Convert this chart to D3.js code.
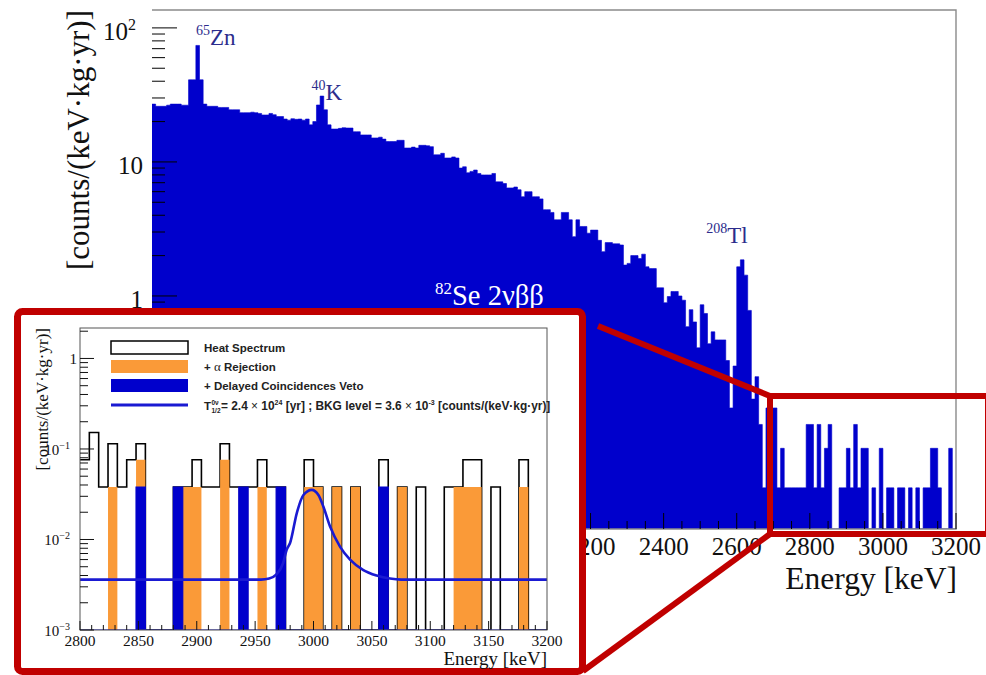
<!DOCTYPE html>
<html>
<head>
<meta charset="utf-8">
<script src="https://cdn.jsdelivr.net/npm/d3@7"></script>
<style>
  html, body { margin: 0; padding: 0; background: #fff; }
  svg { display: block; }
</style>
</head>
<body>
<svg id="fig" width="986" height="675"></svg>
<script>
// ---------------- data ----------------
// Full energy spectrum, 10 keV bins starting at 1000 keV, rate in counts/(keV·kg·yr)
const mainStart = 1000;
const mainStep = 10;
const mainRates = [
  27, 26, 26, 26, 26.5, 27, 27, 27, 26.5, 26.5,
  41, 41, 74, 41, 27, 26, 26, 26, 25.5, 25.5,
  25.5, 24.5, 24.5, 24.5, 23.3, 23.3, 23.3, 23.5, 23.3, 23,
  22.4, 22.4, 23, 22.5, 21.8, 21.8, 20.9, 20.5, 21, 20.8,
  20.9, 20.5, 20.9, 18.9, 20, 26.6, 31, 24.5, 18.9, 17.6,
  17.6, 17.8, 18, 17.9, 17.9, 16.8, 16.8, 15.9, 15.9, 15.9,
  15.1, 15.1, 15.3, 14.8, 14.2, 14.2, 14.2, 14.5, 14.5, 12.7,
  12.7, 12.9, 12.7, 13.3, 13.3, 13.2, 13, 11.3, 11.3, 11.6,
  10.7, 10.7, 10.9, 10.7, 9, 9.2, 8.3, 8.5, 8.7, 8.2,
  8, 8, 8, 8.2, 7.1, 7.1, 6.9, 6.4, 6.4, 6.5,
  6.2, 5.5, 6, 6, 5.5, 5.5, 5.3, 4.4, 4.4, 4.2,
  3.7, 3.7, 4.2, 4.2, 3.7, 2.77, 3.7, 3.3, 3.3, 2.94,
  3.1, 3.1, 2.6, 2.14, 2.5, 2.5, 2.45, 2.45, 2.4, 1.7,
  1.75, 2, 2, 1.9, 2.05, 1.65, 1.6, 1.6, 1.15, 1.15,
  0.89, 0.99, 1.08, 1.08, 1, 0.93, 0.59, 0.79, 0.64, 0.41,
  0.86, 0.74, 0.44, 0.54, 0.47, 0.47, 0.47, 0.33, 0.146, 0.3,
  1.65, 1.86, 1.43, 0.78, 0.17, 0.25, 0.11, 0.037, 0.146, 0.146,
  0.146, 0.037, 0.073, 0.037, 0.037, 0.037, 0.037, 0.037, 0.037, 0.11,
  0.11, 0.037, 0.11, 0.037, 0.073, 0.11, 0, 0, 0.037, 0.037,
  0.073, 0.037, 0.11, 0.037, 0.073, 0.073, 0, 0.037, 0, 0.073,
  0, 0.037, 0.037, 0, 0.037, 0.037, 0, 0.037, 0, 0.037,
  0, 0.037, 0.037, 0.073, 0.073, 0.037, 0, 0, 0.073, 0
];
const mainXTicks = [1000, 1200, 1400, 1600, 1800, 2000, 2200, 2400, 2600, 2800, 3000, 3200];
const mainYTicks = [0.1, 1, 10, 100];

// Peak annotations: isotope mass number, element, line energy (keV)
const peakMass = ["65", "40", "208"];
const peakElem = ["Zn", "K", "Tl"];
const peakEnergy = [1115, 1461, 2615];

// Region of interest, 8 keV bins from 2800 keV
const roiStart = 2800;
const roiStep = 8;
const heatRates = [
  0.076, 0.152, 0.038, 0.114, 0.038, 0.076, 0.114, 0, 0, 0,
  0.038, 0.038, 0.076, 0.038, 0.038, 0.114, 0.038, 0.038, 0.038, 0.076,
  0.038, 0.038, 0, 0, 0.076, 0.038, 0, 0.038, 0, 0.038,
  0, 0, 0.076, 0, 0.038, 0, 0.038, 0, 0, 0.038,
  0.038, 0.076, 0.076, 0, 0.038, 0, 0, 0.076, 0, 0
];
const alphaRates = [
  0, 0, 0, 0.038, 0, 0, 0.076, 0, 0, 0,
  0.038, 0.038, 0.038, 0, 0, 0.076, 0, 0.038, 0, 0.038,
  0, 0.038, 0, 0, 0.038, 0.038, 0, 0.038, 0, 0.038,
  0, 0, 0.038, 0, 0.038, 0, 0, 0, 0, 0,
  0.038, 0.038, 0.038, 0, 0, 0, 0, 0.038, 0, 0
];
const delayedRates = [
  0, 0, 0, 0, 0, 0, 0.038, 0, 0, 0,
  0.038, 0, 0, 0, 0, 0, 0, 0.038, 0, 0,
  0, 0.038, 0, 0, 0, 0, 0, 0, 0, 0,
  0, 0, 0.038, 0, 0, 0, 0, 0, 0, 0,
  0, 0, 0, 0, 0, 0, 0, 0, 0, 0
];
// Fitted signal + flat background (energy keV, rate)
const fitEnergy = [2800, 2955, 2962, 2968, 2974, 2977, 2980, 2985.7, 2991.4, 2998.5,
  3004.2, 3008.5, 3014.2, 3022.8, 3031.3, 3042.7, 3054.1, 3065.5, 3075, 3200];
const fitRate = [0.0036, 0.0036, 0.0037, 0.0041, 0.0055, 0.0077, 0.0092, 0.0196, 0.031, 0.0353,
  0.031, 0.023, 0.0139, 0.0083, 0.006, 0.0046, 0.004, 0.0037, 0.0036, 0.0036];
const roiXTicks = [2800, 2850, 2900, 2950, 3000, 3050, 3100, 3150, 3200];
const roiYTicks = [1, 0.1, 0.01, 0.001];

// ---------------- drawing ----------------
const serif = "'Liberation Serif','Times New Roman',serif";
const sans = "'Liberation Sans',Arial,sans-serif";
const histBlue = "#0000cc";
const orange = "#fa9a38";
const red = "#c00000";
const navy = "#2c2c8c";

const svg = d3.select("#fig");
svg.append("rect").attr("width", 986).attr("height", 675).attr("fill", "#fff");

// ===== main spectrum =====
const xMain = d3.scaleLinear().domain([1000, 3200]).range([152, 956]);
const yMain = d3.scaleLog().domain([0.01825, 136]).range([529, 10]);
const mBottom = yMain.range()[0];

svg.append("clipPath").attr("id", "mainClip")
  .append("rect").attr("x", 152).attr("y", 10).attr("width", 804).attr("height", 519);

function stepPoints(rates, start, step) {
  const pts = rates.map((v, i) => [start + i * step, v]);
  pts.push([start + rates.length * step, rates[rates.length - 1]]);
  return pts;
}

const mainArea = d3.area()
  .curve(d3.curveStepAfter)
  .x(d => xMain(d[0]))
  .y0(mBottom)
  .y1(d => d[1] > 0 ? yMain(d[1]) : mBottom);

svg.append("path")
  .attr("clip-path", "url(#mainClip)")
  .attr("d", mainArea(stepPoints(mainRates, mainStart, mainStep)))
  .attr("fill", histBlue)
  .attr("stroke", histBlue)
  .attr("stroke-width", 0.6);

// frame
svg.append("path")
  .attr("d", `M152,10 H956 V529 H152`)
  .attr("fill", "none").attr("stroke", "#8a8a8a").attr("stroke-width", 1.4);

// x ticks (inward)
const gMain = svg.append("g").attr("stroke", "#000").attr("stroke-width", 1);
const xMinor = d3.range(1000, 3201, 50).filter(v => !mainXTicks.includes(v));
gMain.selectAll(".xmaj").data(mainXTicks).join("line")
  .attr("x1", d => xMain(d)).attr("x2", d => xMain(d))
  .attr("y1", mBottom).attr("y2", mBottom - 16);
gMain.selectAll(".xmin").data(xMinor).join("line")
  .attr("x1", d => xMain(d)).attr("x2", d => xMain(d))
  .attr("y1", mBottom).attr("y2", mBottom - 8);

// y ticks (inward)
const yMinorMain = [];
[-2, -1, 0, 1, 2].forEach(p => {
  for (let m = 2; m <= 9; m++) {
    const v = m * Math.pow(10, p);
    if (v > yMain.domain()[0] && v < yMain.domain()[1]) yMinorMain.push(v);
  }
});
gMain.selectAll(".ymaj").data(mainYTicks).join("line")
  .attr("x1", 152).attr("x2", 152 + 25)
  .attr("y1", d => yMain(d)).attr("y2", d => yMain(d));
gMain.selectAll(".ymin").data(yMinorMain).join("line")
  .attr("x1", 152).attr("x2", 152 + 13)
  .attr("y1", d => yMain(d)).attr("y2", d => yMain(d));

// x tick labels
svg.append("g").selectAll("text").data(mainXTicks).join("text")
  .attr("x", d => xMain(d)).attr("y", 555)
  .attr("text-anchor", "middle")
  .attr("font-family", serif).attr("font-size", 25).attr("fill", "#111")
  .text(d => d);

// y tick labels
function decadeLabel(sel, v, xRight, yBase, size, supSize) {
  const p = Math.round(Math.log10(v));
  const t = sel.append("text")
    .attr("x", xRight).attr("y", yBase)
    .attr("text-anchor", "end")
    .attr("font-family", serif).attr("font-size", size).attr("fill", "#111");
  if (p === 0) { t.text("1"); return; }
  if (p === 1) { t.text("10"); return; }
  t.append("tspan").text("10");
  t.append("tspan").attr("font-size", supSize).attr("dy", -size * 0.42)
    .text(p < 0 ? "\u2212" + (-p) : String(p));
}
const gYLab = svg.append("g");
mainYTicks.forEach(v => {
  const p = Math.round(Math.log10(v));
  decadeLabel(gYLab, v, p >= 2 || p < 0 ? 136 : 143, yMain(v) + 12.5, 25, 16);
});

// axis titles
svg.append("text")
  .attr("transform", "translate(89,10) rotate(-90)")
  .attr("text-anchor", "end")
  .attr("font-family", serif).attr("font-size", 31).attr("fill", "#111")
  .text("[counts/(keV\u00b7kg\u00b7yr)]");
svg.append("text")
  .attr("x", 957).attr("y", 589)
  .attr("text-anchor", "end")
  .attr("font-family", serif).attr("font-size", 31.5).attr("fill", "#111")
  .text("Energy [keV]");

// peak annotations, placed beside each line (pixel shift, label rate level)
const peakPlace = [[2, 74.6], [-9, 29], [-36, 2.49]];
const gPeaks = svg.append("g").attr("font-family", serif).attr("fill", navy);
peakMass.forEach((m, i) => {
  const t = gPeaks.append("text")
    .attr("x", xMain(peakEnergy[i]) + peakPlace[i][0])
    .attr("y", yMain(peakPlace[i][1]));
  t.append("tspan").attr("font-size", 14).attr("dy", -10).text(m);
  t.append("tspan").attr("font-size", 23).attr("dy", 10).text(peakElem[i]);
});
const se = svg.append("text")
  .attr("x", 435).attr("y", 305)
  .attr("font-family", serif).attr("fill", "#fff");
se.append("tspan").attr("font-size", 17).attr("dy", -11).text("82");
se.append("tspan").attr("font-size", 28.5).attr("dy", 11).text("Se 2\u03bd\u03b2\u03b2");

// ===== zoom markers =====
const gRed = svg.append("g").attr("stroke", red).attr("fill", "none");
gRed.append("rect")
  .attr("x", 770).attr("y", 396).attr("width", 218).attr("height", 138)
  .attr("stroke-width", 6);
gRed.append("line").attr("x1", 770).attr("y1", 396).attr("x2", 598).attr("y2", 326)
  .attr("stroke-width", 6);
gRed.append("line").attr("x1", 770).attr("y1", 534).attr("x2", 583).attr("y2", 671)
  .attr("stroke-width", 6);

// ===== inset: region of interest =====
svg.append("rect")
  .attr("x", 17.5).attr("y", 311.5).attr("width", 565).attr("height", 360)
  .attr("rx", 5).attr("ry", 5)
  .attr("fill", "#fff").attr("stroke", red).attr("stroke-width", 7);

const xIn = d3.scaleLinear().domain([2800, 3200]).range([80, 547]);
const yIn = d3.scaleLog().domain([0.001, 2.17]).range([630, 328]);
const iBottom = yIn.range()[0];

svg.append("clipPath").attr("id", "inClip")
  .append("rect").attr("x", 80).attr("y", 328).attr("width", 467).attr("height", 302);

const gIn = svg.append("g").attr("clip-path", "url(#inClip)");
const inArea = d3.area()
  .curve(d3.curveStepAfter)
  .x(d => xIn(d[0]))
  .y0(iBottom)
  .y1(d => d[1] > 0 ? yIn(d[1]) : iBottom);
const inLine = d3.line()
  .curve(d3.curveStepAfter)
  .x(d => xIn(d[0]))
  .y(d => d[1] > 0 ? yIn(d[1]) : iBottom);

// heat spectrum outline
gIn.append("path")
  .attr("d", inLine(stepPoints(heatRates, roiStart, roiStep)))
  .attr("fill", "none").attr("stroke", "#000").attr("stroke-width", 1.6);
// after alpha rejection
gIn.append("path")
  .attr("d", inArea(stepPoints(alphaRates, roiStart, roiStep)))
  .attr("fill", orange).attr("stroke", "none");
// after delayed coincidence veto
gIn.append("path")
  .attr("d", inArea(stepPoints(delayedRates, roiStart, roiStep)))
  .attr("fill", histBlue).attr("stroke", histBlue).attr("stroke-width", 1.2);

// fit curve
const fitLine = d3.line()
  .curve(d3.curveMonotoneX)
  .x(d => xIn(d[0]))
  .y(d => yIn(d[1]));
gIn.append("path")
  .attr("d", fitLine(fitEnergy.map((e, i) => [e, fitRate[i]])))
  .attr("fill", "none").attr("stroke", "#1a1ad2").attr("stroke-width", 2.6);

// inset frame
svg.append("rect")
  .attr("x", 80).attr("y", 328).attr("width", 467).attr("height", 302)
  .attr("fill", "none").attr("stroke", "#555").attr("stroke-width", 1);

// inset ticks
const gInAx = svg.append("g").attr("stroke", "#111").attr("stroke-width", 1);
const roiXMinor = d3.range(2800, 3201, 10).filter(v => !roiXTicks.includes(v));
gInAx.selectAll(".xmaj").data(roiXTicks).join("line")
  .attr("x1", d => xIn(d)).attr("x2", d => xIn(d))
  .attr("y1", iBottom).attr("y2", iBottom - 9);
gInAx.selectAll(".xmin").data(roiXMinor).join("line")
  .attr("x1", d => xIn(d)).attr("x2", d => xIn(d))
  .attr("y1", iBottom).attr("y2", iBottom - 5);
const roiYMinor = [];
[-3, -2, -1, 0].forEach(p => {
  for (let m = 2; m <= 9; m++) {
    const v = m * Math.pow(10, p);
    if (v < yIn.domain()[1]) roiYMinor.push(v);
  }
});
gInAx.selectAll(".ymaj").data(roiYTicks).join("line")
  .attr("x1", 80).attr("x2", 80 + 14)
  .attr("y1", d => yIn(d)).attr("y2", d => yIn(d));
gInAx.selectAll(".ymin").data(roiYMinor).join("line")
  .attr("x1", 80).attr("x2", 80 + 8)
  .attr("y1", d => yIn(d)).attr("y2", d => yIn(d));

// inset tick labels
svg.append("g").selectAll("text").data(roiXTicks).join("text")
  .attr("x", d => xIn(d)).attr("y", 646)
  .attr("text-anchor", "middle")
  .attr("font-family", serif).attr("font-size", 15.5).attr("fill", "#111")
  .text(d => d);
const gInY = svg.append("g");
roiYTicks.forEach(v => {
  const p = Math.round(Math.log10(v));
  decadeLabel(gInY, v, p === 0 ? 77 : 70, yIn(v) + 6, 15, 10);
});

// inset axis titles
svg.append("text")
  .attr("x", 547).attr("y", 665)
  .attr("text-anchor", "end")
  .attr("font-family", serif).attr("font-size", 19).attr("fill", "#111")
  .text("Energy [keV]");
svg.append("text")
  .attr("transform", "translate(48,328) rotate(-90)")
  .attr("text-anchor", "end")
  .attr("font-family", serif).attr("font-size", 17).attr("fill", "#111")
  .text("[counts/(keV\u00b7kg\u00b7yr)]");

// inset legend
const gLeg = svg.append("g");
gLeg.append("rect").attr("x", 111).attr("y", 341).attr("width", 77).attr("height", 13)
  .attr("fill", "#fff").attr("stroke", "#000").attr("stroke-width", 1.5);
gLeg.append("rect").attr("x", 111).attr("y", 360).attr("width", 77).attr("height", 13)
  .attr("fill", orange);
gLeg.append("rect").attr("x", 111).attr("y", 379).attr("width", 77).attr("height", 13)
  .attr("fill", histBlue);
gLeg.append("line").attr("x1", 111).attr("x2", 188).attr("y1", 405).attr("y2", 405)
  .attr("stroke", "#1a1ad2").attr("stroke-width", 3);

const legText = (y, size) => gLeg.append("text").attr("x", 204).attr("y", y)
  .attr("font-family", sans).attr("font-weight", "bold").attr("font-size", size || 11.5).attr("fill", "#222");
legText(351.5).text("Heat Spectrum");
const la = legText(371);
la.append("tspan").text("+ ");
la.append("tspan").attr("font-family", serif).attr("font-weight", "normal").attr("font-size", 13).text("\u03b1");
la.append("tspan").text(" Rejection");
legText(390).text("+ Delayed Coincidences Veto");

legText(409.5).text("T");
gLeg.append("text").attr("x", 211.5).attr("y", 404.5)
  .attr("font-family", sans).attr("font-weight", "bold").attr("font-size", 6.5).attr("fill", "#222")
  .text("0\u03bd");
gLeg.append("text").attr("x", 211.5).attr("y", 412.5)
  .attr("font-family", sans).attr("font-weight", "bold").attr("font-size", 6.5).attr("fill", "#222")
  .text("1/2");
const lt = gLeg.append("text").attr("x", 221).attr("y", 409.5)
  .attr("font-family", sans).attr("font-weight", "bold").attr("font-size", 11.9).attr("fill", "#222");
lt.append("tspan").text("= 2.4 ");
lt.append("tspan").attr("font-weight", "normal").text("\u00d7");
lt.append("tspan").text(" 10");
lt.append("tspan").attr("font-size", 7).attr("dy", -5).text("24");
lt.append("tspan").attr("dy", 5).text(" [yr] ; BKG level = 3.6 ");
lt.append("tspan").attr("font-weight", "normal").text("\u00d7");
lt.append("tspan").text(" 10");
lt.append("tspan").attr("font-size", 7).attr("dy", -5).text("-3");
lt.append("tspan").attr("dy", 5).text(" [counts/(keV\u00b7kg\u00b7yr)]");
</script>
</body>
</html>
